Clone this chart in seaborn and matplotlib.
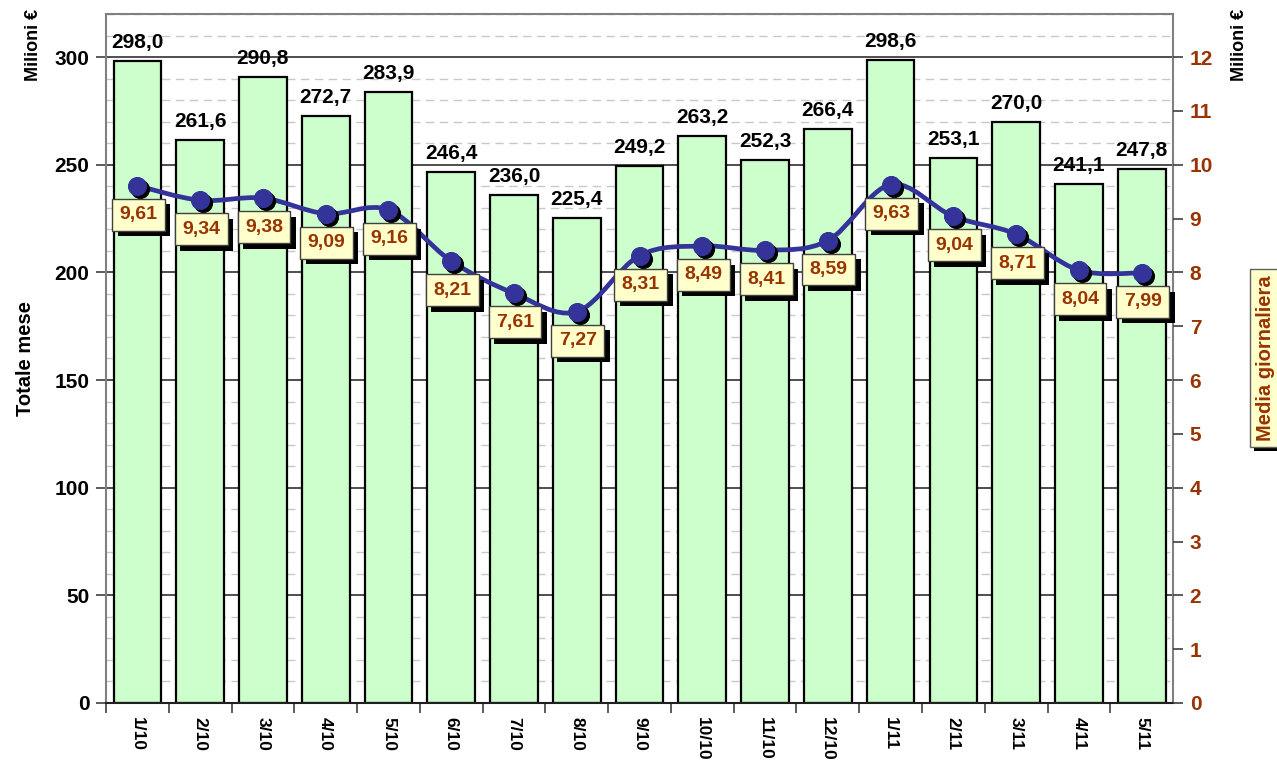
import numpy as np
import pandas as pd
import matplotlib
matplotlib.use("Agg")
import matplotlib.pyplot as plt
import matplotlib.patheffects as pe
from matplotlib.path import Path
from matplotlib.patches import PathPatch
from matplotlib.ticker import MultipleLocator
from matplotlib.transforms import offset_copy
import seaborn as sns

months = ["1/10", "2/10", "3/10", "4/10", "5/10", "6/10", "7/10", "8/10", "9/10",
          "10/10", "11/10", "12/10", "1/11", "2/11", "3/11", "4/11", "5/11"]
monthly_total = [298.0, 261.6, 290.8, 272.7, 283.9, 246.4, 236.0, 225.4, 249.2,
                 263.2, 252.3, 266.4, 298.6, 253.1, 270.0, 241.1, 247.8]
daily_avg = [9.61, 9.34, 9.38, 9.09, 9.16, 8.21, 7.61, 7.27, 8.31,
             8.49, 8.41, 8.59, 9.63, 9.04, 8.71, 8.04, 7.99]

BAR_GREEN = "#CCFFCC"
LINE_BLUE = "#333399"
BROWN = "#993300"
PALE_YELLOW = "#FFFFCC"

sns.set_theme(style="white")
plt.rcParams["font.family"] = ["Liberation Sans", "DejaVu Sans"]
plt.rcParams["font.weight"] = "bold"
plt.rcParams["text.color"] = "black"
plt.rcParams["axes.labelcolor"] = "black"
plt.rcParams["xtick.labelcolor"] = "black"
plt.rcParams["ytick.labelcolor"] = "black"


def smooth_path(xs, ys, tension=1 / 6):
    # Catmull-Rom style bezier segments through the data points
    pts = np.column_stack([xs, ys])
    verts = [pts[0]]
    codes = [Path.MOVETO]
    n = len(pts)
    for i in range(n - 1):
        p0 = pts[i - 1] if i > 0 else pts[i]
        p1 = pts[i]
        p2 = pts[i + 1]
        p3 = pts[i + 2] if i + 2 < n else pts[i + 1]
        c1 = p1 + (p2 - p0) * tension
        c2 = p2 - (p3 - p1) * tension
        verts += [c1, c2, p2]
        codes += [Path.CURVE4] * 3
    return Path(verts, codes)


df = pd.DataFrame({"mese": months, "totale": monthly_total, "media": daily_avg})

fig = plt.figure(figsize=(12.77, 7.6), dpi=100)
ax = fig.add_axes([0.083, 0.075, 0.8356, 0.9066])

# grid behind bars
ax.set_axisbelow(True)
ax.yaxis.set_major_locator(MultipleLocator(50))
ax.yaxis.set_minor_locator(MultipleLocator(10))
ax.grid(which="major", axis="y", color="#303030", linewidth=1.2, linestyle="-")
ax.grid(which="minor", axis="y", color="#C8C8C8", linewidth=1.0, linestyle=(0, (6, 4)))

sns.barplot(data=df, x="mese", y="totale", order=months, color=BAR_GREEN,
            saturation=1, edgecolor="black", linewidth=1.6, width=0.76, ax=ax)

ax.set_xlim(-0.5, len(months) - 0.5)
ax.set_ylim(0, 320)
ax.set_xlabel("")
ax.set_ylabel("Totale mese", fontsize=14.5, fontweight="bold", color="black", labelpad=14)
ax.tick_params(axis="y", which="major", length=7, width=1.2, color="#404040",
               labelsize=15, labelcolor="black", left=True, pad=5)
ax.tick_params(axis="y", which="minor", length=0)
ax.set_xticks(np.arange(len(months)) - 0.5, minor=True)
ax.tick_params(axis="x", which="minor", length=7, width=1.2, color="#404040", bottom=True)
ax.tick_params(axis="x", which="major", length=0, labelsize=12.5, labelcolor="black", pad=10)
for lab in ax.get_xticklabels():
    lab.set_rotation(270)
    lab.set_fontweight("bold")
    lab.set_va("top")
for lab in ax.get_yticklabels():
    lab.set_fontweight("bold")
for s in ax.spines.values():
    s.set_color("#808080")
    s.set_linewidth(1.5)
ax.spines["bottom"].set_color("#202020")

for i, v in enumerate(monthly_total):
    ax.annotate(f"{v:.1f}".replace(".", ","), (i, v), xytext=(0, 9),
                textcoords="offset pixels", ha="center", va="bottom",
                fontsize=15, fontweight="bold", color="black")

# right axis: daily average
ax2 = ax.twinx()
ax2.set_ylim(0, 12.8)
ax2.yaxis.set_major_locator(MultipleLocator(1))
ax2.tick_params(axis="y", length=7, width=1.2, color="#404040", labelsize=15,
                labelcolor=BROWN, right=True, pad=5)
for lab in ax2.get_yticklabels():
    lab.set_fontweight("bold")
for s in ax2.spines.values():
    s.set_visible(False)

xs = np.arange(len(months))
shadow_tr = offset_copy(ax2.transData, fig=fig, x=3, y=-3, units="dots")
curve = PathPatch(smooth_path(xs, daily_avg), facecolor="none", edgecolor=LINE_BLUE,
                  linewidth=3.4, transform=ax2.transData, zorder=3)
ax2.add_patch(curve)
# marker shadows, then markers
sns.lineplot(x=xs, y=daily_avg, ax=ax2, linestyle="none", marker="o", markersize=13,
             color="black", markeredgecolor="black", zorder=3.5)
ax2.lines[-1].set_transform(shadow_tr)
sns.lineplot(x=xs, y=daily_avg, ax=ax2, linestyle="none", marker="o", markersize=13,
             color=LINE_BLUE, markeredgecolor=LINE_BLUE, zorder=4)

for i, v in enumerate(daily_avg):
    t = ax2.annotate(f"{v:.2f}".replace(".", ","), (i, v), xytext=(1, -29),
                     textcoords="offset pixels", ha="center", va="center",
                     fontsize=14, fontweight="bold", color=BROWN, zorder=5,
                     bbox=dict(boxstyle="square,pad=0.38", facecolor=PALE_YELLOW,
                               edgecolor="#404040", linewidth=1))
    t.get_bbox_patch().set_path_effects(
        [pe.SimplePatchShadow(offset=(4, -4), shadow_rgbFace="black", alpha=1), pe.Normal()])

fig.text(0.026, 0.988, "Milioni €", rotation=90, ha="center", va="top",
         fontsize=13, fontweight="bold", color="black")
fig.text(0.971, 0.988, "Milioni €", rotation=90, ha="center", va="top",
         fontsize=13, fontweight="bold", color="black")
side = fig.text(0.991, 0.529, "Media giornaliera", rotation=90, ha="center", va="center",
                fontsize=14.5, fontweight="bold", color=BROWN,
                bbox=dict(boxstyle="square,pad=0.3", facecolor=PALE_YELLOW,
                          edgecolor="#606060", linewidth=1))
side.get_bbox_patch().set_path_effects(
    [pe.SimplePatchShadow(offset=(3, -3), shadow_rgbFace="black", alpha=1), pe.Normal()])

fig.savefig("out.png", dpi=100)
